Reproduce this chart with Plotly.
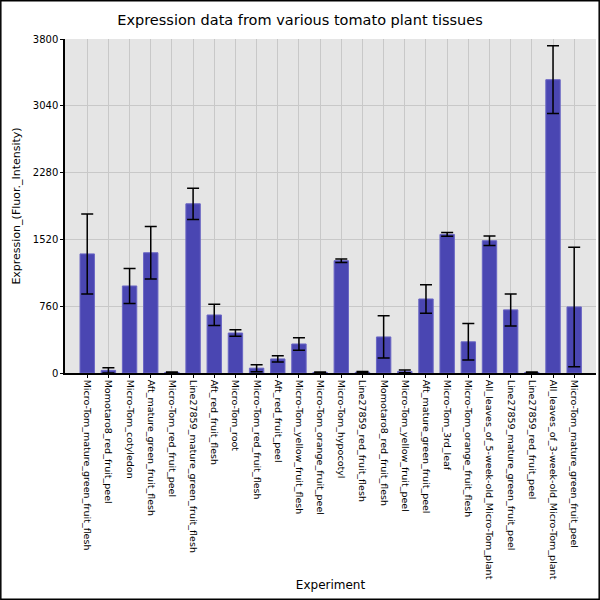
import plotly.graph_objects as go

# dados
experiments = [
    "Micro-Tom_mature_green_fruit_flesh",
    "Momotaro8_red_fruit_peel",
    "Micro-Tom_cotyledon",
    "Aft_mature_green_fruit_flesh",
    "Micro-Tom_red_fruit_peel",
    "Line27859_mature_green_fruit_flesh",
    "Aft_red_fruit_flesh",
    "Micro-Tom_root",
    "Micro-Tom_red_fruit_flesh",
    "Aft_red_fruit_peel",
    "Micro-Tom_yellow_fruit_flesh",
    "Micro-Tom_orange_fruit_peel",
    "Micro-Tom_hypocotyl",
    "Line27859_red_fruit_flesh",
    "Momotaro8_red_fruit_flesh",
    "Micro-Tom_yellow_fruit_peel",
    "Aft_mature_green_fruit_peel",
    "Micro-Tom_3rd_leaf",
    "Micro-Tom_orange_fruit_flesh",
    "All_leaves_of_5-week-old_Micro-Tom_plant",
    "Line27859_mature_green_fruit_peel",
    "Line27859_red_fruit_peel",
    "All_leaves_of_3-week-old_Micro-Tom_plant",
    "Micro-Tom_mature_green_fruit_peel",
]
expression = [1355, 30, 990, 1368, 6, 1925, 660, 455, 55, 160, 330, 6,
              1278, 8, 410, 18, 842, 1577, 355, 1505, 718, 5, 3337, 752]
error = [455, 30, 200, 298, 6, 178, 121, 38, 40, 35, 72, 6,
         20, 8, 240, 15, 163, 22, 207, 53, 182, 5, 385, 680]
y_ticks = [0, 760, 1520, 2280, 3040, 3800]

fig = go.Figure(go.Bar(
    x=experiments,
    y=expression,
    marker=dict(color="#4a46b2", line=dict(color="#6a66c4", width=1)),
    error_y=dict(type="data", array=error, color="black", thickness=1.5, width=6),
))

font = "DejaVu Sans"
plot_l, plot_r, plot_t, plot_b = 65, 4, 39, 227
pw, ph = 600 - plot_l - plot_r, 600 - plot_t - plot_b

fig.update_layout(
    width=600, height=600,
    margin=dict(l=plot_l, r=plot_r, t=plot_t, b=plot_b),
    paper_bgcolor="white",
    plot_bgcolor="#e5e5e5",
    bargap=0.32,
    showlegend=False,
    font=dict(family=font, color="black"),
    title=dict(text="Expression data from various tomato plant tissues",
               x=0.5, xanchor="center", y=0.967, yanchor="middle",
               font=dict(family=font, size=14.5, color="black")),
    xaxis=dict(
        title=dict(text="Experiment", font=dict(size=12), standoff=2),
        tickangle=90, tickfont=dict(size=9.5),
        range=[-1.05, 24.03],
        showgrid=True, gridcolor="#c8c8c8", gridwidth=1,
        showline=True, linecolor="black", linewidth=1.5,
        ticks="outside", ticklen=3, tickcolor="black",
        automargin=False,
    ),
    yaxis=dict(
        title=dict(text="Expression_(Fluor._Intensity)", font=dict(size=11), standoff=10),
        tickvals=y_ticks, tickfont=dict(size=10),
        range=[0, 3800],
        showgrid=True, gridcolor="#c8c8c8", gridwidth=1,
        showline=True, linecolor="black", linewidth=1.5,
        ticks="outside", ticklen=3, tickcolor="black",
        zeroline=False, automargin=False,
    ),
)

# moldura em volta da figura
fig.add_shape(type="rect", xref="paper", yref="paper",
              x0=-plot_l / pw + 0.8 / pw, x1=1 + plot_r / pw - 0.8 / pw,
              y0=-plot_b / ph + 0.8 / ph, y1=1 + plot_t / ph - 0.8 / ph,
              line=dict(color="black", width=1.5), layer="above")

# tirar a margem padrao da pagina
fig.write_html("out.html", config={"displayModeBar": False},
               post_script="document.body.style.margin='0';")
